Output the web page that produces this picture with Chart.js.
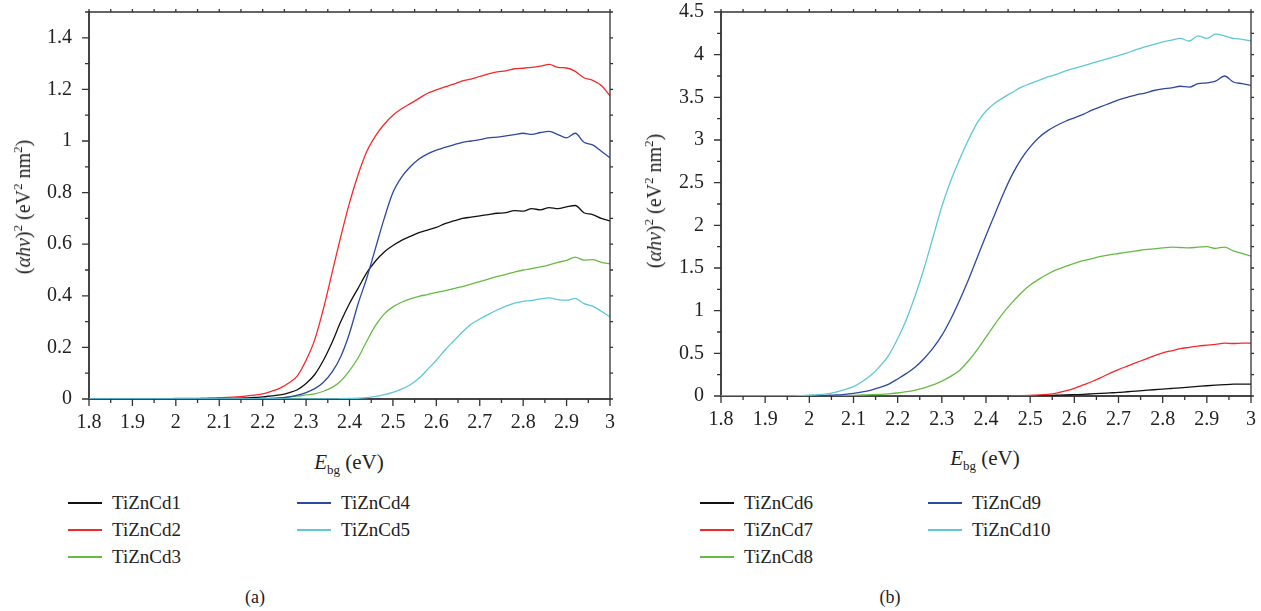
<!DOCTYPE html>
<html>
<head>
<meta charset="utf-8">
<script src="https://cdn.jsdelivr.net/npm/chart.js@4.4.1/dist/chart.umd.min.js"></script>
<style>
  body { margin: 0; width: 1261px; height: 611px; background: #fff; position: relative; overflow: hidden;
         font-family: "Liberation Serif", "DejaVu Serif", serif; color: #222; }
  canvas { position: absolute; }
  .t { position: absolute; white-space: nowrap; font-size: 20px; line-height: 20px; }
  .t sup, .t sub { font-size: 13px; line-height: 0; }
  .ytitle { transform: translate(-50%, -50%) rotate(-90deg); }
  .xtitle { transform: translate(-50%, -50%); font-size: 21px; }
  .li { position: absolute; height: 0; }
  .li i { position: absolute; left: 0; top: -1px; width: 34px; height: 2px; }
  .li span { position: absolute; left: 44px; top: -12px; font-size: 19px; line-height: 24px; white-space: nowrap; }
  .cap { position: absolute; font-size: 18px; transform: translate(-50%, -50%); }
</style>
</head>
<body>
<canvas id="chartA" width="630" height="439" style="left:0;top:-10px"></canvas>
<canvas id="chartB" width="631" height="436" style="left:630px;top:-10px"></canvas>

<div class="t ytitle" style="left:23px;top:207px">(<i>αhν</i>)<sup>2</sup> (eV<sup>2</sup> nm<sup>2</sup>)</div>
<div class="t xtitle" style="left:349px;top:462px"><i>E</i><sub>bg</sub> (eV)</div>
<div class="t ytitle" style="left:654px;top:201px">(<i>αhν</i>)<sup>2</sup> (eV<sup>2</sup> nm<sup>2</sup>)</div>
<div class="t xtitle" style="left:985px;top:458px"><i>E</i><sub>bg</sub> (eV)</div>
<div id="legA"></div>
<div id="legB"></div>
<div class="cap" style="left:255px;top:597px">(a)</div>
<div class="cap" style="left:890px;top:597px">(b)</div>

<script>
// photon energy (eV), same grid for every curve
const energy = [
  1.80, 1.82, 1.84, 1.86, 1.88, 1.90, 1.92, 1.94, 1.96, 1.98,
  2.00, 2.02, 2.04, 2.06, 2.08, 2.10, 2.12, 2.14, 2.16, 2.18,
  2.20, 2.22, 2.24, 2.26, 2.28, 2.30, 2.32, 2.34, 2.36, 2.38,
  2.40, 2.42, 2.44, 2.46, 2.48, 2.50, 2.52, 2.54, 2.56, 2.58,
  2.60, 2.62, 2.64, 2.66, 2.68, 2.70, 2.72, 2.74, 2.76, 2.78,
  2.80, 2.82, 2.84, 2.86, 2.88, 2.90, 2.92, 2.94, 2.96, 2.98, 3.00,
];

// panel (a)
const tiZnCd1 = [
  0, 0, 0, 0, 0, 0, 0, 0, 0, 0,
  0, 0.001, 0.001, 0.001, 0.001, 0.001, 0.002, 0.003, 0.004, 0.006,
  0.008, 0.012, 0.016, 0.024, 0.036, 0.06, 0.095, 0.15, 0.22, 0.30,
  0.37, 0.43, 0.49, 0.535, 0.57, 0.595, 0.615, 0.63, 0.645, 0.655,
  0.665, 0.68, 0.69, 0.70, 0.705, 0.71, 0.715, 0.72, 0.722, 0.73,
  0.728, 0.738, 0.733, 0.742, 0.738, 0.745, 0.75, 0.722, 0.715, 0.70, 0.69,
];
const tiZnCd2 = [
  0, 0, 0, 0, 0, 0.001, 0.001, 0.001, 0.001, 0.001,
  0.002, 0.002, 0.002, 0.003, 0.004, 0.005, 0.006, 0.008, 0.011, 0.015,
  0.02, 0.03, 0.042, 0.062, 0.09, 0.15, 0.23, 0.35, 0.49, 0.63,
  0.76, 0.87, 0.96, 1.02, 1.065, 1.10, 1.125, 1.145, 1.165, 1.185,
  1.198, 1.21, 1.22, 1.233, 1.24, 1.25, 1.26, 1.268, 1.272, 1.28,
  1.282, 1.285, 1.29, 1.297, 1.285, 1.283, 1.27, 1.245, 1.235, 1.215, 1.175,
];
const tiZnCd3 = [
  0, 0, 0, 0, 0, 0, 0, 0, 0, 0,
  0, 0, 0, 0, 0, 0.001, 0.001, 0.001, 0.001, 0.001,
  0.001, 0.002, 0.004, 0.007, 0.011, 0.016, 0.02, 0.03, 0.045, 0.07,
  0.11, 0.16, 0.225, 0.285, 0.33, 0.357, 0.375, 0.388, 0.398, 0.405,
  0.413, 0.42, 0.428, 0.436, 0.445, 0.455, 0.465, 0.475, 0.483, 0.492,
  0.50, 0.505, 0.512, 0.52, 0.53, 0.537, 0.55, 0.538, 0.54, 0.53, 0.524,
];
const tiZnCd4 = [
  0, 0, 0, 0, 0, 0, 0, 0, 0, 0,
  0, 0, 0, 0, 0, 0, 0, 0, 0, 0,
  0, 0.002, 0.004, 0.008, 0.015, 0.025, 0.04, 0.065, 0.105, 0.165,
  0.255, 0.37, 0.47, 0.585, 0.70, 0.80, 0.86, 0.90, 0.93, 0.95,
  0.965, 0.975, 0.985, 0.995, 1.0, 1.005, 1.012, 1.015, 1.02, 1.025,
  1.03, 1.026, 1.033, 1.037, 1.025, 1.012, 1.03, 0.995, 0.985, 0.96, 0.935,
];
const tiZnCd5 = [
  0, 0, 0, 0, 0, 0, 0, 0, 0, 0,
  0, 0, 0, 0, 0, 0, 0, 0, 0, 0,
  0, 0, 0, 0, 0, 0, 0, 0, 0, 0.001,
  0.002, 0.003, 0.005, 0.01, 0.017, 0.026, 0.038, 0.055, 0.08, 0.115,
  0.15, 0.19, 0.225, 0.26, 0.29, 0.31, 0.328, 0.345, 0.36, 0.372,
  0.378, 0.382, 0.388, 0.392, 0.385, 0.383, 0.39, 0.37, 0.36, 0.34, 0.318,
];

// panel (b)
const tiZnCd6 = [
  0, 0, 0, 0, 0, 0, 0, 0, 0, 0,
  0, 0, 0, 0, 0, 0, 0, 0, 0, 0,
  0, 0, 0, 0, 0, 0, 0, 0, 0, 0,
  0, 0, 0, 0, 0.001, 0.002, 0.004, 0.006, 0.009, 0.012,
  0.016, 0.02, 0.025, 0.03, 0.036, 0.042, 0.05, 0.057, 0.065, 0.073,
  0.08, 0.088, 0.096, 0.104, 0.112, 0.12, 0.127, 0.133, 0.138, 0.14, 0.14,
];
const tiZnCd7 = [
  0, 0, 0, 0, 0, 0, 0, 0, 0, 0,
  0, 0, 0, 0, 0, 0, 0, 0, 0, 0,
  0, 0, 0, 0, 0, 0, 0, 0, 0, 0,
  0, 0.001, 0.002, 0.003, 0.005, 0.008, 0.012, 0.02, 0.035, 0.06,
  0.09, 0.13, 0.17, 0.215, 0.265, 0.31, 0.35, 0.39, 0.43, 0.47,
  0.505, 0.53, 0.555, 0.57, 0.585, 0.595, 0.605, 0.62, 0.615, 0.62, 0.62,
];
const tiZnCd8 = [
  0, 0, 0, 0, 0, 0, 0, 0, 0, 0,
  0, 0, 0, 0.003, 0.005, 0.008, 0.012, 0.016, 0.02, 0.026,
  0.035, 0.05, 0.07, 0.095, 0.13, 0.175, 0.23, 0.30, 0.41, 0.54,
  0.69, 0.84, 0.98, 1.10, 1.21, 1.30, 1.37, 1.43, 1.48, 1.52,
  1.555, 1.585, 1.61, 1.635, 1.655, 1.67, 1.685, 1.70, 1.715, 1.725,
  1.735, 1.745, 1.74, 1.735, 1.745, 1.75, 1.73, 1.745, 1.70, 1.67, 1.64,
];
const tiZnCd9 = [
  0, 0, 0, 0, 0, 0, 0, 0, 0, 0,
  0.003, 0.005, 0.008, 0.012, 0.02, 0.032, 0.048, 0.07, 0.10, 0.14,
  0.20, 0.265, 0.34, 0.44, 0.56, 0.71, 0.90, 1.12, 1.36, 1.62,
  1.88, 2.13, 2.38, 2.60, 2.78, 2.92, 3.03, 3.11, 3.17, 3.22,
  3.26, 3.30, 3.35, 3.39, 3.43, 3.47, 3.50, 3.53, 3.55, 3.58,
  3.60, 3.61, 3.63, 3.62, 3.66, 3.67, 3.69, 3.75, 3.68, 3.66, 3.64,
];
const tiZnCd10 = [
  0, 0, 0, 0, 0, 0, 0, 0, 0, 0.005,
  0.01, 0.015, 0.025, 0.045, 0.075, 0.11, 0.17, 0.245, 0.35, 0.48,
  0.67, 0.90, 1.18, 1.50, 1.86, 2.22, 2.52, 2.77, 3.0, 3.2,
  3.34, 3.43, 3.50, 3.56, 3.62, 3.66, 3.70, 3.74, 3.77, 3.81,
  3.84, 3.87, 3.90, 3.93, 3.96, 3.99, 4.02, 4.06, 4.09, 4.12,
  4.15, 4.17, 4.19, 4.16, 4.22, 4.19, 4.24, 4.22, 4.19, 4.18, 4.16,
];

const namesA = ["TiZnCd1", "TiZnCd2", "TiZnCd3", "TiZnCd4", "TiZnCd5"];
const namesB = ["TiZnCd6", "TiZnCd7", "TiZnCd8", "TiZnCd9", "TiZnCd10"];
const colors = ["#111111", "#f42a2a", "#66bb44", "#2c48a0", "#5ec8d8"];

const pts = (vals) => energy.map((e, i) => ({ x: e, y: vals[i] }));
const num = (v) => String(+v.toFixed(2));

// box edges plus major/minor tick marks, placed through the chart scales
const frameTicks = {
  id: "frameTicks",
  afterDatasetsDraw(chart, args, o) {
    const { ctx, chartArea: a, scales: { x, y } } = chart;
    ctx.save();
    ctx.strokeStyle = "#333";
    ctx.lineWidth = 1.3;
    ctx.beginPath();
    ctx.moveTo(a.left, a.top);
    ctx.lineTo(a.right, a.top);
    ctx.lineTo(a.right, a.bottom);
    for (let k = 0; ; k++) {
      const v = x.min + k * o.xMinor;
      if (v > x.max + 1e-9) break;
      const px = x.getPixelForValue(v);
      ctx.moveTo(px, a.bottom);
      ctx.lineTo(px, a.bottom + (k % o.xEvery === 0 ? 7 : 4));
      ctx.moveTo(px, a.top);
      ctx.lineTo(px, a.top - 3);
    }
    for (let k = 0; ; k++) {
      const v = y.min + k * o.yMinor;
      if (v > y.max + 1e-9) break;
      const py = y.getPixelForValue(v);
      ctx.moveTo(a.left, py);
      ctx.lineTo(a.left - (k % o.yEvery === 0 ? 7 : 4), py);
      ctx.moveTo(a.right, py);
      ctx.lineTo(a.right + 3, py);
    }
    ctx.stroke();
    ctx.restore();
  },
};

const tickFont = { family: "Liberation Serif", size: 20 };

function makeChart(id, series, names, yMax, yStep, yMinor, yWidth, pad) {
  return new Chart(document.getElementById(id), {
    type: "line",
    data: {
      datasets: series.map((s, i) => ({
        label: names[i],
        data: pts(s),
        borderColor: colors[i],
        borderWidth: 1.3,
        pointRadius: 0,
        cubicInterpolationMode: "monotone",
        order: 10 - i,
      })),
    },
    options: {
      responsive: false,
      animation: false,
      layout: { padding: pad },
      plugins: {
        legend: { display: false },
        tooltip: { enabled: false },
        frameTicks: { xMinor: 0.05, xEvery: 2, yMinor: yMinor, yEvery: 2 },
      },
      scales: {
        x: {
          type: "linear",
          min: 1.8,
          max: 3,
          afterFit: (s) => { s.height = 30; },
          grid: { display: false, tickLength: 7 },
          border: { display: true, color: "#444", width: 2 },
          ticks: { stepSize: 0.1, padding: 5, color: "#222", font: tickFont, maxRotation: 0, callback: num },
        },
        y: {
          min: 0,
          max: yMax,
          afterFit: (s) => { s.width = yWidth; },
          grid: { display: false, tickLength: 7 },
          border: { display: true, color: "#444", width: 2 },
          ticks: { stepSize: yStep, includeBounds: false, padding: 10, color: "#222", font: tickFont, callback: num },
        },
      },
    },
    plugins: [frameTicks],
  });
}

const chartA = makeChart("chartA", [tiZnCd1, tiZnCd2, tiZnCd3, tiZnCd4, tiZnCd5], namesA,
  1.5, 0.2, 0.1, 89, { top: 20, right: 20, left: 0, bottom: 0 });
const chartB = makeChart("chartB", [tiZnCd6, tiZnCd7, tiZnCd8, tiZnCd9, tiZnCd10], namesB,
  4.5, 0.5, 0.25, 91, { top: 17, right: 10, left: 0, bottom: 0 });

// two-column legend under each panel
function buildLegend(chart, el, x0, colGap) {
  chart.data.datasets.forEach((ds, i) => {
    const col = i < 3 ? 0 : 1;
    const row = i < 3 ? i : i - 3;
    const item = document.createElement("div");
    item.className = "li";
    item.style.left = x0 + col * colGap + "px";
    item.style.top = 503 + row * 27 + "px";
    item.innerHTML = '<i style="background:' + ds.borderColor + '"></i><span>' + ds.label + "</span>";
    el.appendChild(item);
  });
}
buildLegend(chartA, document.getElementById("legA"), 68, 229);
buildLegend(chartB, document.getElementById("legB"), 700, 228);
</script>
</body>
</html>
